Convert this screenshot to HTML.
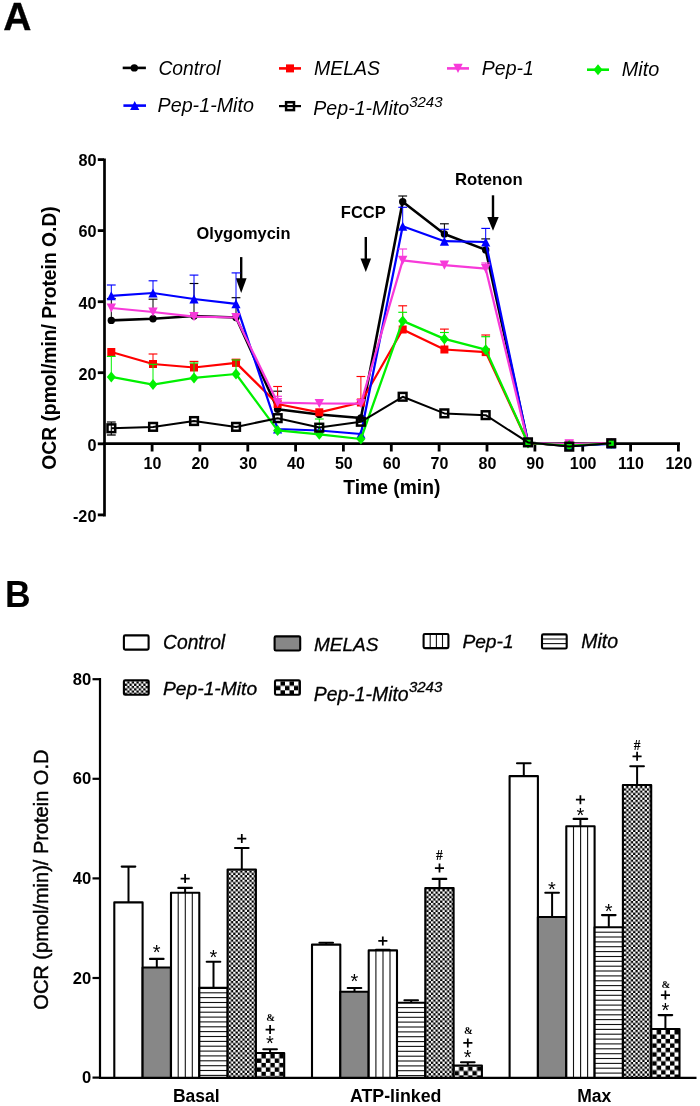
<!DOCTYPE html>
<html><head><meta charset="utf-8"><style>
html,body{margin:0;padding:0;background:#fff;}
svg{display:block;will-change:transform;}
text{font-family:"Liberation Sans", sans-serif;fill:#000;}
.it{stroke:#000;stroke-width:0.3px;}
</style></head><body>
<svg width="700" height="1106" viewBox="0 0 700 1106">
<defs><pattern id="ck1" patternUnits="userSpaceOnUse" x="228.62" y="870.50" width="4.60" height="4.60"><rect width="4.60" height="4.60" fill="#fff"/><rect x="2.30" width="2.30" height="2.30" fill="#000"/><rect y="2.30" width="2.30" height="2.30" fill="#000"/></pattern>
<pattern id="ck2" patternUnits="userSpaceOnUse" x="256.95" y="1054.00" width="8.90" height="8.90"><rect width="8.90" height="8.90" fill="#fff"/><rect x="4.45" width="4.45" height="4.45" fill="#000"/><rect y="4.45" width="4.45" height="4.45" fill="#000"/></pattern>
<pattern id="ck3" patternUnits="userSpaceOnUse" x="426.32" y="889.10" width="4.60" height="4.60"><rect width="4.60" height="4.60" fill="#fff"/><rect x="2.30" width="2.30" height="2.30" fill="#000"/><rect y="2.30" width="2.30" height="2.30" fill="#000"/></pattern>
<pattern id="ck4" patternUnits="userSpaceOnUse" x="454.65" y="1066.50" width="8.90" height="8.90"><rect width="8.90" height="8.90" fill="#fff"/><rect x="4.45" width="4.45" height="4.45" fill="#000"/><rect y="4.45" width="4.45" height="4.45" fill="#000"/></pattern>
<pattern id="ck5" patternUnits="userSpaceOnUse" x="623.92" y="786.00" width="4.60" height="4.60"><rect width="4.60" height="4.60" fill="#fff"/><rect x="2.30" width="2.30" height="2.30" fill="#000"/><rect y="2.30" width="2.30" height="2.30" fill="#000"/></pattern>
<pattern id="ck6" patternUnits="userSpaceOnUse" x="652.25" y="1030.00" width="8.90" height="8.90"><rect width="8.90" height="8.90" fill="#fff"/><rect x="4.45" width="4.45" height="4.45" fill="#000"/><rect y="4.45" width="4.45" height="4.45" fill="#000"/></pattern>
<pattern id="ck7" patternUnits="userSpaceOnUse" x="124.90" y="681.30" width="4.60" height="4.60"><rect width="4.60" height="4.60" fill="#fff"/><rect x="2.30" width="2.30" height="2.30" fill="#000"/><rect y="2.30" width="2.30" height="2.30" fill="#000"/></pattern>
<pattern id="ck8" patternUnits="userSpaceOnUse" x="276.00" y="681.30" width="9.00" height="9.00"><rect width="9.00" height="9.00" fill="#fff"/><rect x="4.50" width="4.50" height="4.50" fill="#000"/><rect y="4.50" width="4.50" height="4.50" fill="#000"/></pattern></defs>
<rect width="700" height="1106" fill="#fff"/>
<text transform="translate(3.3,30.2) scale(1.03,1)" font-size="37.9" font-weight="bold" style="stroke:#000;stroke-width:0.3px">A</text>
<text transform="translate(5.0,607.3) scale(0.94,1)" font-size="37.7" font-weight="bold">B</text>
<line x1="104.5" y1="158.4" x2="104.5" y2="516.5" stroke="#000" stroke-width="2.7"/>
<line x1="97.8" y1="159.6" x2="104" y2="159.6" stroke="#000" stroke-width="2.8"/>
<text x="96.4" y="166.4" font-size="16.2" font-weight="bold" text-anchor="end">80</text>
<line x1="97.8" y1="230.6" x2="104" y2="230.6" stroke="#000" stroke-width="2.8"/>
<text x="96.4" y="237.4" font-size="16.2" font-weight="bold" text-anchor="end">60</text>
<line x1="97.8" y1="301.7" x2="104" y2="301.7" stroke="#000" stroke-width="2.8"/>
<text x="96.4" y="308.5" font-size="16.2" font-weight="bold" text-anchor="end">40</text>
<line x1="97.8" y1="372.7" x2="104" y2="372.7" stroke="#000" stroke-width="2.8"/>
<text x="96.4" y="379.5" font-size="16.2" font-weight="bold" text-anchor="end">20</text>
<line x1="97.8" y1="443.8" x2="104" y2="443.8" stroke="#000" stroke-width="2.8"/>
<text x="96.4" y="450.6" font-size="16.2" font-weight="bold" text-anchor="end">0</text>
<line x1="97.8" y1="514.9" x2="104" y2="514.9" stroke="#000" stroke-width="2.8"/>
<text x="96.4" y="521.7" font-size="16.2" font-weight="bold" text-anchor="end">-20</text>
<line x1="103" y1="443.7" x2="680" y2="443.7" stroke="#000" stroke-width="2.8"/>
<line x1="152.1" y1="443.7" x2="152.1" y2="451.5" stroke="#000" stroke-width="2.8"/>
<text x="152.5" y="468.6" font-size="16" font-weight="bold" text-anchor="middle">10</text>
<line x1="199.9" y1="443.7" x2="199.9" y2="451.5" stroke="#000" stroke-width="2.8"/>
<text x="200.3" y="468.6" font-size="16" font-weight="bold" text-anchor="middle">20</text>
<line x1="247.8" y1="443.7" x2="247.8" y2="451.5" stroke="#000" stroke-width="2.8"/>
<text x="248.2" y="468.6" font-size="16" font-weight="bold" text-anchor="middle">30</text>
<line x1="295.6" y1="443.7" x2="295.6" y2="451.5" stroke="#000" stroke-width="2.8"/>
<text x="296.0" y="468.6" font-size="16" font-weight="bold" text-anchor="middle">40</text>
<line x1="343.4" y1="443.7" x2="343.4" y2="451.5" stroke="#000" stroke-width="2.8"/>
<text x="343.8" y="468.6" font-size="16" font-weight="bold" text-anchor="middle">50</text>
<line x1="391.3" y1="443.7" x2="391.3" y2="451.5" stroke="#000" stroke-width="2.8"/>
<text x="391.7" y="468.6" font-size="16" font-weight="bold" text-anchor="middle">60</text>
<line x1="439.1" y1="443.7" x2="439.1" y2="451.5" stroke="#000" stroke-width="2.8"/>
<text x="439.5" y="468.6" font-size="16" font-weight="bold" text-anchor="middle">70</text>
<line x1="487.0" y1="443.7" x2="487.0" y2="451.5" stroke="#000" stroke-width="2.8"/>
<text x="487.4" y="468.6" font-size="16" font-weight="bold" text-anchor="middle">80</text>
<line x1="534.9" y1="443.7" x2="534.9" y2="451.5" stroke="#000" stroke-width="2.8"/>
<text x="535.2" y="468.6" font-size="16" font-weight="bold" text-anchor="middle">90</text>
<line x1="582.7" y1="443.7" x2="582.7" y2="451.5" stroke="#000" stroke-width="2.8"/>
<text x="583.1" y="468.6" font-size="16" font-weight="bold" text-anchor="middle">100</text>
<line x1="630.6" y1="443.7" x2="630.6" y2="451.5" stroke="#000" stroke-width="2.8"/>
<text x="631.0" y="468.6" font-size="16" font-weight="bold" text-anchor="middle">110</text>
<line x1="678.4" y1="443.7" x2="678.4" y2="451.5" stroke="#000" stroke-width="2.8"/>
<text x="678.8" y="468.6" font-size="16" font-weight="bold" text-anchor="middle">120</text>
<text x="391.8" y="494.2" font-size="19.3" font-weight="bold" text-anchor="middle">Time (min)</text>
<text transform="translate(56.3,338) rotate(-90)" font-size="19.3" font-weight="bold" text-anchor="middle">OCR (pmol/min/ Protein O.D)</text>
<text x="196.6" y="238.8" font-size="16.4" font-weight="bold">Olygomycin</text>
<text x="340.8" y="217.7" font-size="16.5" font-weight="bold">FCCP</text>
<text x="455" y="184.8" font-size="16.7" font-weight="bold">Rotenon</text>
<line x1="241.2" y1="257.1" x2="241.2" y2="280.3" stroke="#000" stroke-width="2.4"/>
<polygon points="235.79999999999998,278.3 246.6,278.3 241.2,293.1" fill="#000"/>
<line x1="365.8" y1="237.0" x2="365.8" y2="260.4" stroke="#000" stroke-width="2.4"/>
<polygon points="360.5,258.4 371.1,258.4 365.8,272.1" fill="#000"/>
<line x1="493.0" y1="195.3" x2="493.0" y2="219.0" stroke="#000" stroke-width="2.4"/>
<polygon points="487.3,217.0 498.7,217.0 493.0,230.7" fill="#000"/>
<line x1="111.3" y1="320.4" x2="111.3" y2="298.5" stroke="#000000" stroke-width="1.0"/>
<line x1="106.9" y1="298.5" x2="115.7" y2="298.5" stroke="#000000" stroke-width="1.15"/>
<line x1="153.0" y1="318.7" x2="153.0" y2="299.2" stroke="#000000" stroke-width="1.0"/>
<line x1="148.6" y1="299.2" x2="157.4" y2="299.2" stroke="#000000" stroke-width="1.15"/>
<line x1="194.0" y1="316.0" x2="194.0" y2="283.5" stroke="#000000" stroke-width="1.0"/>
<line x1="189.6" y1="283.5" x2="198.4" y2="283.5" stroke="#000000" stroke-width="1.15"/>
<line x1="236.0" y1="317.5" x2="236.0" y2="297.7" stroke="#000000" stroke-width="1.0"/>
<line x1="231.6" y1="297.7" x2="240.4" y2="297.7" stroke="#000000" stroke-width="1.15"/>
<line x1="277.6" y1="409.2" x2="277.6" y2="391.2" stroke="#000000" stroke-width="1.0"/>
<line x1="273.2" y1="391.2" x2="282.0" y2="391.2" stroke="#000000" stroke-width="1.15"/>
<line x1="402.7" y1="201.8" x2="402.7" y2="196.0" stroke="#000000" stroke-width="1.0"/>
<line x1="398.3" y1="196.0" x2="407.1" y2="196.0" stroke="#000000" stroke-width="1.15"/>
<line x1="444.4" y1="234.0" x2="444.4" y2="223.8" stroke="#000000" stroke-width="1.0"/>
<line x1="440.0" y1="223.8" x2="448.8" y2="223.8" stroke="#000000" stroke-width="1.15"/>
<line x1="485.7" y1="249.9" x2="485.7" y2="238.9" stroke="#000000" stroke-width="1.0"/>
<line x1="481.3" y1="238.9" x2="490.1" y2="238.9" stroke="#000000" stroke-width="1.15"/>
<polyline points="111.3,320.4 153.0,318.7 194.0,316.0 236.0,317.5 277.6,409.2 319.3,414.5 360.9,418.0 402.7,201.8 444.4,234.0 485.7,249.9 528.0,442.5 569.2,446.0 611.2,443.0" fill="none" stroke="#000000" stroke-width="2.6" stroke-linejoin="round"/>
<circle cx="111.3" cy="320.4" r="3.7" fill="#000000"/>
<circle cx="153.0" cy="318.7" r="3.7" fill="#000000"/>
<circle cx="194.0" cy="316.0" r="3.7" fill="#000000"/>
<circle cx="236.0" cy="317.5" r="3.7" fill="#000000"/>
<circle cx="277.6" cy="409.2" r="3.7" fill="#000000"/>
<circle cx="319.3" cy="414.5" r="3.7" fill="#000000"/>
<circle cx="360.9" cy="418.0" r="3.7" fill="#000000"/>
<circle cx="402.7" cy="201.8" r="3.7" fill="#000000"/>
<circle cx="444.4" cy="234.0" r="3.7" fill="#000000"/>
<circle cx="485.7" cy="249.9" r="3.7" fill="#000000"/>
<circle cx="528.0" cy="442.5" r="3.7" fill="#000000"/>
<circle cx="569.2" cy="446.0" r="3.7" fill="#000000"/>
<circle cx="611.2" cy="443.0" r="3.7" fill="#000000"/>
<line x1="153.0" y1="364.0" x2="153.0" y2="354.0" stroke="#ff0000" stroke-width="1.0"/>
<line x1="148.6" y1="354.0" x2="157.4" y2="354.0" stroke="#ff0000" stroke-width="1.15"/>
<line x1="194.0" y1="367.5" x2="194.0" y2="361.4" stroke="#ff0000" stroke-width="1.0"/>
<line x1="189.6" y1="361.4" x2="198.4" y2="361.4" stroke="#ff0000" stroke-width="1.15"/>
<line x1="236.0" y1="362.9" x2="236.0" y2="359.3" stroke="#ff0000" stroke-width="1.0"/>
<line x1="231.6" y1="359.3" x2="240.4" y2="359.3" stroke="#ff0000" stroke-width="1.15"/>
<line x1="277.6" y1="404.0" x2="277.6" y2="386.5" stroke="#ff0000" stroke-width="1.0"/>
<line x1="273.2" y1="386.5" x2="282.0" y2="386.5" stroke="#ff0000" stroke-width="1.15"/>
<line x1="360.9" y1="402.5" x2="360.9" y2="376.5" stroke="#ff0000" stroke-width="1.0"/>
<line x1="356.5" y1="376.5" x2="365.3" y2="376.5" stroke="#ff0000" stroke-width="1.15"/>
<line x1="402.7" y1="329.5" x2="402.7" y2="305.8" stroke="#ff0000" stroke-width="1.0"/>
<line x1="398.3" y1="305.8" x2="407.1" y2="305.8" stroke="#ff0000" stroke-width="1.15"/>
<line x1="444.4" y1="349.5" x2="444.4" y2="329.1" stroke="#ff0000" stroke-width="1.0"/>
<line x1="440.0" y1="329.1" x2="448.8" y2="329.1" stroke="#ff0000" stroke-width="1.15"/>
<line x1="485.7" y1="352.1" x2="485.7" y2="335.0" stroke="#ff0000" stroke-width="1.0"/>
<line x1="481.3" y1="335.0" x2="490.1" y2="335.0" stroke="#ff0000" stroke-width="1.15"/>
<polyline points="111.3,352.0 153.0,364.0 194.0,367.5 236.0,362.9 277.6,404.0 319.3,412.3 360.9,402.5 402.7,329.5 444.4,349.5 485.7,352.1 528.0,443.0 569.2,445.5 611.2,443.0" fill="none" stroke="#ff0000" stroke-width="2.25" stroke-linejoin="round"/>
<rect x="107.3" y="348.0" width="8.0" height="8.0" fill="#ff0000"/>
<rect x="149.0" y="360.0" width="8.0" height="8.0" fill="#ff0000"/>
<rect x="190.0" y="363.5" width="8.0" height="8.0" fill="#ff0000"/>
<rect x="232.0" y="358.9" width="8.0" height="8.0" fill="#ff0000"/>
<rect x="273.6" y="400.0" width="8.0" height="8.0" fill="#ff0000"/>
<rect x="315.3" y="408.3" width="8.0" height="8.0" fill="#ff0000"/>
<rect x="356.9" y="398.5" width="8.0" height="8.0" fill="#ff0000"/>
<rect x="398.7" y="325.5" width="8.0" height="8.0" fill="#ff0000"/>
<rect x="440.4" y="345.5" width="8.0" height="8.0" fill="#ff0000"/>
<rect x="481.7" y="348.1" width="8.0" height="8.0" fill="#ff0000"/>
<rect x="524.0" y="439.0" width="8.0" height="8.0" fill="#ff0000"/>
<rect x="565.2" y="441.5" width="8.0" height="8.0" fill="#ff0000"/>
<rect x="607.2" y="439.0" width="8.0" height="8.0" fill="#ff0000"/>
<line x1="111.3" y1="295.8" x2="111.3" y2="285.0" stroke="#0000ff" stroke-width="1.0"/>
<line x1="106.9" y1="285.0" x2="115.7" y2="285.0" stroke="#0000ff" stroke-width="1.15"/>
<line x1="153.0" y1="293.0" x2="153.0" y2="280.8" stroke="#0000ff" stroke-width="1.0"/>
<line x1="148.6" y1="280.8" x2="157.4" y2="280.8" stroke="#0000ff" stroke-width="1.15"/>
<line x1="194.0" y1="299.0" x2="194.0" y2="275.1" stroke="#0000ff" stroke-width="1.0"/>
<line x1="189.6" y1="275.1" x2="198.4" y2="275.1" stroke="#0000ff" stroke-width="1.15"/>
<line x1="236.0" y1="303.8" x2="236.0" y2="272.9" stroke="#0000ff" stroke-width="1.0"/>
<line x1="231.6" y1="272.9" x2="240.4" y2="272.9" stroke="#0000ff" stroke-width="1.15"/>
<line x1="402.7" y1="226.2" x2="402.7" y2="207.3" stroke="#0000ff" stroke-width="1.0"/>
<line x1="398.3" y1="207.3" x2="407.1" y2="207.3" stroke="#0000ff" stroke-width="1.15"/>
<line x1="444.4" y1="241.2" x2="444.4" y2="229.3" stroke="#0000ff" stroke-width="1.0"/>
<line x1="440.0" y1="229.3" x2="448.8" y2="229.3" stroke="#0000ff" stroke-width="1.15"/>
<line x1="485.7" y1="242.0" x2="485.7" y2="228.4" stroke="#0000ff" stroke-width="1.0"/>
<line x1="481.3" y1="228.4" x2="490.1" y2="228.4" stroke="#0000ff" stroke-width="1.15"/>
<polyline points="111.3,295.8 153.0,293.0 194.0,299.0 236.0,303.8 277.6,429.0 319.3,430.5 360.9,434.0 402.7,226.2 444.4,241.2 485.7,242.0 528.0,442.5 569.2,446.0 611.2,444.0" fill="none" stroke="#0000ff" stroke-width="2.25" stroke-linejoin="round"/>
<polygon points="106.7,300.3 115.9,300.3 111.3,291.3" fill="#0000ff"/>
<polygon points="148.4,297.5 157.6,297.5 153.0,288.5" fill="#0000ff"/>
<polygon points="189.4,303.5 198.6,303.5 194.0,294.5" fill="#0000ff"/>
<polygon points="231.4,308.3 240.6,308.3 236.0,299.3" fill="#0000ff"/>
<polygon points="273.0,433.5 282.2,433.5 277.6,424.5" fill="#0000ff"/>
<polygon points="314.7,435.0 323.9,435.0 319.3,426.0" fill="#0000ff"/>
<polygon points="356.3,438.5 365.5,438.5 360.9,429.5" fill="#0000ff"/>
<polygon points="398.1,230.7 407.3,230.7 402.7,221.7" fill="#0000ff"/>
<polygon points="439.8,245.7 449.0,245.7 444.4,236.7" fill="#0000ff"/>
<polygon points="481.1,246.5 490.3,246.5 485.7,237.5" fill="#0000ff"/>
<polygon points="523.4,447.0 532.6,447.0 528.0,438.0" fill="#0000ff"/>
<polygon points="564.6,450.5 573.8,450.5 569.2,441.5" fill="#0000ff"/>
<polygon points="606.6,448.5 615.8,448.5 611.2,439.5" fill="#0000ff"/>
<line x1="277.6" y1="402.7" x2="277.6" y2="396.3" stroke="#f73ad9" stroke-width="1.0"/>
<line x1="273.2" y1="396.3" x2="282.0" y2="396.3" stroke="#f73ad9" stroke-width="1.15"/>
<line x1="402.7" y1="260.4" x2="402.7" y2="249.0" stroke="#f73ad9" stroke-width="1.0"/>
<line x1="398.3" y1="249.0" x2="407.1" y2="249.0" stroke="#f73ad9" stroke-width="1.15"/>
<line x1="485.7" y1="268.7" x2="485.7" y2="263.0" stroke="#f73ad9" stroke-width="1.0"/>
<line x1="481.3" y1="263.0" x2="490.1" y2="263.0" stroke="#f73ad9" stroke-width="1.15"/>
<line x1="569.2" y1="444.0" x2="569.2" y2="440.0" stroke="#f73ad9" stroke-width="1.0"/>
<line x1="564.8" y1="440.0" x2="573.6" y2="440.0" stroke="#f73ad9" stroke-width="1.15"/>
<polyline points="111.3,308.0 153.0,312.0 194.0,316.6 236.0,317.5 277.6,402.7 319.3,403.5 360.9,403.5 402.7,260.4 444.4,265.2 485.7,268.7 528.0,443.0 569.2,444.0 611.2,443.0" fill="none" stroke="#f73ad9" stroke-width="2.25" stroke-linejoin="round"/>
<polygon points="106.6,303.4 116.0,303.4 111.3,312.6" fill="#f73ad9"/>
<polygon points="148.3,307.4 157.7,307.4 153.0,316.6" fill="#f73ad9"/>
<polygon points="189.3,312.0 198.7,312.0 194.0,321.2" fill="#f73ad9"/>
<polygon points="231.3,312.9 240.7,312.9 236.0,322.1" fill="#f73ad9"/>
<polygon points="272.9,398.1 282.3,398.1 277.6,407.3" fill="#f73ad9"/>
<polygon points="314.6,398.9 324.0,398.9 319.3,408.1" fill="#f73ad9"/>
<polygon points="356.2,398.9 365.6,398.9 360.9,408.1" fill="#f73ad9"/>
<polygon points="398.0,255.8 407.4,255.8 402.7,265.0" fill="#f73ad9"/>
<polygon points="439.7,260.6 449.1,260.6 444.4,269.8" fill="#f73ad9"/>
<polygon points="481.0,264.1 490.4,264.1 485.7,273.3" fill="#f73ad9"/>
<polygon points="523.3,438.4 532.7,438.4 528.0,447.6" fill="#f73ad9"/>
<polygon points="564.5,439.4 573.9,439.4 569.2,448.6" fill="#f73ad9"/>
<polygon points="606.5,438.4 615.9,438.4 611.2,447.6" fill="#f73ad9"/>
<line x1="111.3" y1="376.9" x2="111.3" y2="356.4" stroke="#00f000" stroke-width="1.0"/>
<line x1="106.9" y1="356.4" x2="115.7" y2="356.4" stroke="#00f000" stroke-width="1.15"/>
<line x1="153.0" y1="384.6" x2="153.0" y2="364.3" stroke="#00f000" stroke-width="1.0"/>
<line x1="148.6" y1="364.3" x2="157.4" y2="364.3" stroke="#00f000" stroke-width="1.15"/>
<line x1="194.0" y1="377.9" x2="194.0" y2="363.0" stroke="#00f000" stroke-width="1.0"/>
<line x1="189.6" y1="363.0" x2="198.4" y2="363.0" stroke="#00f000" stroke-width="1.15"/>
<line x1="236.0" y1="374.0" x2="236.0" y2="360.0" stroke="#00f000" stroke-width="1.0"/>
<line x1="231.6" y1="360.0" x2="240.4" y2="360.0" stroke="#00f000" stroke-width="1.15"/>
<line x1="319.3" y1="434.3" x2="319.3" y2="419.0" stroke="#00f000" stroke-width="1.0"/>
<line x1="314.9" y1="419.0" x2="323.7" y2="419.0" stroke="#00f000" stroke-width="1.15"/>
<line x1="402.7" y1="320.9" x2="402.7" y2="312.3" stroke="#00f000" stroke-width="1.0"/>
<line x1="398.3" y1="312.3" x2="407.1" y2="312.3" stroke="#00f000" stroke-width="1.15"/>
<line x1="444.4" y1="338.9" x2="444.4" y2="332.5" stroke="#00f000" stroke-width="1.0"/>
<line x1="440.0" y1="332.5" x2="448.8" y2="332.5" stroke="#00f000" stroke-width="1.15"/>
<line x1="485.7" y1="349.7" x2="485.7" y2="336.7" stroke="#00f000" stroke-width="1.0"/>
<line x1="481.3" y1="336.7" x2="490.1" y2="336.7" stroke="#00f000" stroke-width="1.15"/>
<polyline points="111.3,376.9 153.0,384.6 194.0,377.9 236.0,374.0 277.6,430.4 319.3,434.3 360.9,439.0 402.7,320.9 444.4,338.9 485.7,349.7 528.0,443.0 569.2,445.5 611.2,443.5" fill="none" stroke="#00f000" stroke-width="2.25" stroke-linejoin="round"/>
<polygon points="106.8,376.9 111.3,371.4 115.8,376.9 111.3,382.4" fill="#00f000"/>
<polygon points="148.5,384.6 153.0,379.1 157.5,384.6 153.0,390.1" fill="#00f000"/>
<polygon points="189.5,377.9 194.0,372.4 198.5,377.9 194.0,383.4" fill="#00f000"/>
<polygon points="231.5,374.0 236.0,368.5 240.5,374.0 236.0,379.5" fill="#00f000"/>
<polygon points="273.1,430.4 277.6,424.9 282.1,430.4 277.6,435.9" fill="#00f000"/>
<polygon points="314.8,434.3 319.3,428.8 323.8,434.3 319.3,439.8" fill="#00f000"/>
<polygon points="356.4,439.0 360.9,433.5 365.4,439.0 360.9,444.5" fill="#00f000"/>
<polygon points="398.2,320.9 402.7,315.4 407.2,320.9 402.7,326.4" fill="#00f000"/>
<polygon points="439.9,338.9 444.4,333.4 448.9,338.9 444.4,344.4" fill="#00f000"/>
<polygon points="481.2,349.7 485.7,344.2 490.2,349.7 485.7,355.2" fill="#00f000"/>
<polygon points="523.5,443.0 528.0,437.5 532.5,443.0 528.0,448.5" fill="#00f000"/>
<polygon points="564.7,445.5 569.2,440.0 573.7,445.5 569.2,451.0" fill="#00f000"/>
<polygon points="606.7,443.5 611.2,438.0 615.7,443.5 611.2,449.0" fill="#00f000"/>
<line x1="111.3" y1="428.3" x2="111.3" y2="422.0" stroke="#000000" stroke-width="1.0"/>
<line x1="106.9" y1="422.0" x2="115.7" y2="422.0" stroke="#000000" stroke-width="1.15"/>
<polyline points="111.3,428.3 153.0,426.9 194.0,421.1 236.0,426.9 277.6,418.2 319.3,427.6 360.9,421.8 402.7,396.8 444.4,413.4 485.7,415.2 528.0,442.4 569.2,446.6 611.2,443.3" fill="none" stroke="#000000" stroke-width="2.0" stroke-linejoin="round"/>
<rect x="107.5" y="424.4" width="7.7" height="7.7" fill="none" stroke="#000000" stroke-width="2.5"/>
<rect x="149.2" y="423.0" width="7.7" height="7.7" fill="none" stroke="#000000" stroke-width="2.5"/>
<rect x="190.2" y="417.2" width="7.7" height="7.7" fill="none" stroke="#000000" stroke-width="2.5"/>
<rect x="232.2" y="423.0" width="7.7" height="7.7" fill="none" stroke="#000000" stroke-width="2.5"/>
<rect x="273.8" y="414.3" width="7.7" height="7.7" fill="none" stroke="#000000" stroke-width="2.5"/>
<rect x="315.4" y="423.8" width="7.7" height="7.7" fill="none" stroke="#000000" stroke-width="2.5"/>
<rect x="357.0" y="417.9" width="7.7" height="7.7" fill="none" stroke="#000000" stroke-width="2.5"/>
<rect x="398.8" y="392.9" width="7.7" height="7.7" fill="none" stroke="#000000" stroke-width="2.5"/>
<rect x="440.5" y="409.5" width="7.7" height="7.7" fill="none" stroke="#000000" stroke-width="2.5"/>
<rect x="481.8" y="411.3" width="7.7" height="7.7" fill="none" stroke="#000000" stroke-width="2.5"/>
<rect x="524.1" y="438.5" width="7.7" height="7.7" fill="none" stroke="#000000" stroke-width="2.5"/>
<rect x="565.4" y="442.8" width="7.7" height="7.7" fill="none" stroke="#000000" stroke-width="2.5"/>
<rect x="607.4" y="439.4" width="7.7" height="7.7" fill="none" stroke="#000000" stroke-width="2.5"/>
<line x1="111.3" y1="428.3" x2="111.3" y2="435" stroke="#000" stroke-width="1.1"/>
<line x1="106.9" y1="435" x2="115.7" y2="435" stroke="#000" stroke-width="1.3"/>
<line x1="122.7" y1="67.9" x2="145.9" y2="67.9" stroke="#000000" stroke-width="2.6"/>
<circle cx="134.3" cy="67.9" r="3.7" fill="#000000"/>
<line x1="279" y1="68.4" x2="301" y2="68.4" stroke="#ff0000" stroke-width="2.6"/>
<rect x="286.0" y="64.4" width="8.0" height="8.0" fill="#ff0000"/>
<line x1="447" y1="68.4" x2="469" y2="68.4" stroke="#f73ad9" stroke-width="2.6"/>
<polygon points="453.3,63.8 462.7,63.8 458.0,73.0" fill="#f73ad9"/>
<line x1="587" y1="69.7" x2="609" y2="69.7" stroke="#00f000" stroke-width="2.6"/>
<polygon points="593.5,69.7 598.0,64.2 602.5,69.7 598.0,75.2" fill="#00f000"/>
<line x1="123.4" y1="105.6" x2="146" y2="105.6" stroke="#0000ff" stroke-width="2.6"/>
<polygon points="130.1,110.1 139.3,110.1 134.7,101.1" fill="#0000ff"/>
<line x1="279" y1="106.1" x2="301" y2="106.1" stroke="#000000" stroke-width="2.2"/>
<rect x="286.1" y="102.2" width="7.9" height="7.9" fill="none" stroke="#000000" stroke-width="2.5"/>
<text x="158.4" y="74.6" font-size="19.3" font-style="italic" class="">Control</text>
<text x="313.9" y="75" font-size="19.5" font-style="italic" class="">MELAS</text>
<text x="481.8" y="74.6" font-size="19.5" font-style="italic" class="">Pep-1</text>
<text x="621.8" y="75.9" font-size="19.8" font-style="italic" class="">Mito</text>
<text x="157.6" y="112" font-size="19.7" font-style="italic" class="">Pep-1-Mito</text>
<text x="313.3" y="115.2" font-size="19.6" font-style="italic">Pep-1-Mito<tspan font-size="15" dy="-8.4">3243</tspan></text>
<line x1="100" y1="678" x2="100" y2="1078.5" stroke="#000" stroke-width="2.2"/>
<line x1="92.5" y1="679.2" x2="100" y2="679.2" stroke="#000" stroke-width="2.2"/>
<text x="91.3" y="684.8" font-size="16.6" font-weight="bold" text-anchor="end">80</text>
<line x1="92.5" y1="778.8" x2="100" y2="778.8" stroke="#000" stroke-width="2.2"/>
<text x="91.3" y="784.4" font-size="16.6" font-weight="bold" text-anchor="end">60</text>
<line x1="92.5" y1="878.4" x2="100" y2="878.4" stroke="#000" stroke-width="2.2"/>
<text x="91.3" y="884.0" font-size="16.6" font-weight="bold" text-anchor="end">40</text>
<line x1="92.5" y1="978.0" x2="100" y2="978.0" stroke="#000" stroke-width="2.2"/>
<text x="91.3" y="983.6" font-size="16.6" font-weight="bold" text-anchor="end">20</text>
<line x1="92.5" y1="1077.6" x2="100" y2="1077.6" stroke="#000" stroke-width="2.2"/>
<text x="91.3" y="1083.2" font-size="16.6" font-weight="bold" text-anchor="end">0</text>
<line x1="99" y1="1077.9" x2="696.5" y2="1077.9" stroke="#000" stroke-width="2.2"/>
<text x="196.3" y="1102.1" font-size="17.5" font-weight="bold" text-anchor="middle">Basal</text>
<text x="395.7" y="1101.9" font-size="17.8" font-weight="bold" text-anchor="middle">ATP-linked</text>
<text x="594.3" y="1101.8" font-size="17.5" font-weight="bold" text-anchor="middle">Max</text>
<text transform="translate(48.1,879.6) rotate(-90)" font-size="20" text-anchor="middle" style="stroke:#000;stroke-width:0.45px">OCR (pmol/min)/ Protein O.D</text>
<line x1="128.5" y1="902.0" x2="128.5" y2="866.6" stroke="#000" stroke-width="2"/>
<line x1="121.7" y1="866.6" x2="135.3" y2="866.6" stroke="#000" stroke-width="2.1" stroke-linecap="round"/>
<line x1="156.8" y1="967.1" x2="156.8" y2="958.9" stroke="#000" stroke-width="2"/>
<line x1="150.0" y1="958.9" x2="163.6" y2="958.9" stroke="#000" stroke-width="2.1" stroke-linecap="round"/>
<line x1="185.1" y1="892.3" x2="185.1" y2="887.9" stroke="#000" stroke-width="2"/>
<line x1="178.3" y1="887.9" x2="191.9" y2="887.9" stroke="#000" stroke-width="2.1" stroke-linecap="round"/>
<line x1="213.5" y1="987.5" x2="213.5" y2="961.7" stroke="#000" stroke-width="2"/>
<line x1="206.7" y1="961.7" x2="220.3" y2="961.7" stroke="#000" stroke-width="2.1" stroke-linecap="round"/>
<line x1="241.8" y1="869.1" x2="241.8" y2="848.0" stroke="#000" stroke-width="2"/>
<line x1="235.0" y1="848.0" x2="248.6" y2="848.0" stroke="#000" stroke-width="2.1" stroke-linecap="round"/>
<line x1="270.1" y1="1052.6" x2="270.1" y2="1049.3" stroke="#000" stroke-width="2"/>
<line x1="263.3" y1="1049.3" x2="276.9" y2="1049.3" stroke="#000" stroke-width="2.1" stroke-linecap="round"/>
<rect x="114.3" y="902.4" width="28.3" height="175.5" fill="#fff"/>
<rect x="114.3" y="902.4" width="28.3" height="175.5" fill="none" stroke="#000" stroke-width="2.1" stroke-linejoin="round"/>
<rect x="142.6" y="967.5" width="28.3" height="110.4" fill="#878787"/>
<rect x="142.6" y="967.5" width="28.3" height="110.4" fill="none" stroke="#000" stroke-width="2.1" stroke-linejoin="round"/>
<rect x="171.0" y="892.7" width="28.3" height="185.2" fill="#fff"/>
<line x1="178.2" y1="892.7" x2="178.2" y2="1077.9" stroke="#111" stroke-width="1.1"/>
<line x1="185.3" y1="892.7" x2="185.3" y2="1077.9" stroke="#111" stroke-width="1.1"/>
<line x1="192.3" y1="892.7" x2="192.3" y2="1077.9" stroke="#111" stroke-width="1.1"/>
<rect x="171.0" y="892.7" width="28.3" height="185.2" fill="none" stroke="#000" stroke-width="2.1" stroke-linejoin="round"/>
<rect x="199.3" y="987.9" width="28.3" height="90.0" fill="#fff"/>
<line x1="199.3" y1="992.8" x2="227.6" y2="992.8" stroke="#111" stroke-width="1.1"/>
<line x1="199.3" y1="997.6" x2="227.6" y2="997.6" stroke="#111" stroke-width="1.1"/>
<line x1="199.3" y1="1002.5" x2="227.6" y2="1002.5" stroke="#111" stroke-width="1.1"/>
<line x1="199.3" y1="1007.3" x2="227.6" y2="1007.3" stroke="#111" stroke-width="1.1"/>
<line x1="199.3" y1="1012.2" x2="227.6" y2="1012.2" stroke="#111" stroke-width="1.1"/>
<line x1="199.3" y1="1017.1" x2="227.6" y2="1017.1" stroke="#111" stroke-width="1.1"/>
<line x1="199.3" y1="1021.9" x2="227.6" y2="1021.9" stroke="#111" stroke-width="1.1"/>
<line x1="199.3" y1="1026.8" x2="227.6" y2="1026.8" stroke="#111" stroke-width="1.1"/>
<line x1="199.3" y1="1031.6" x2="227.6" y2="1031.6" stroke="#111" stroke-width="1.1"/>
<line x1="199.3" y1="1036.5" x2="227.6" y2="1036.5" stroke="#111" stroke-width="1.1"/>
<line x1="199.3" y1="1041.4" x2="227.6" y2="1041.4" stroke="#111" stroke-width="1.1"/>
<line x1="199.3" y1="1046.2" x2="227.6" y2="1046.2" stroke="#111" stroke-width="1.1"/>
<line x1="199.3" y1="1051.1" x2="227.6" y2="1051.1" stroke="#111" stroke-width="1.1"/>
<line x1="199.3" y1="1055.9" x2="227.6" y2="1055.9" stroke="#111" stroke-width="1.1"/>
<line x1="199.3" y1="1060.8" x2="227.6" y2="1060.8" stroke="#111" stroke-width="1.1"/>
<line x1="199.3" y1="1065.7" x2="227.6" y2="1065.7" stroke="#111" stroke-width="1.1"/>
<line x1="199.3" y1="1070.5" x2="227.6" y2="1070.5" stroke="#111" stroke-width="1.1"/>
<line x1="199.3" y1="1075.4" x2="227.6" y2="1075.4" stroke="#111" stroke-width="1.1"/>
<rect x="199.3" y="987.9" width="28.3" height="90.0" fill="none" stroke="#000" stroke-width="2.1" stroke-linejoin="round"/>
<rect x="227.6" y="869.5" width="28.3" height="208.4" fill="url(#ck1)"/>
<rect x="227.6" y="869.5" width="28.3" height="208.4" fill="none" stroke="#000" stroke-width="2.1" stroke-linejoin="round"/>
<rect x="255.9" y="1053.0" width="28.3" height="24.9" fill="url(#ck2)"/>
<rect x="255.9" y="1053.0" width="28.3" height="24.9" fill="none" stroke="#000" stroke-width="2.1" stroke-linejoin="round"/>
<line x1="326.2" y1="944.2" x2="326.2" y2="942.7" stroke="#000" stroke-width="2"/>
<line x1="319.4" y1="942.7" x2="333.0" y2="942.7" stroke="#000" stroke-width="2.1" stroke-linecap="round"/>
<line x1="354.5" y1="991.4" x2="354.5" y2="988.0" stroke="#000" stroke-width="2"/>
<line x1="347.7" y1="988.0" x2="361.3" y2="988.0" stroke="#000" stroke-width="2.1" stroke-linecap="round"/>
<line x1="382.8" y1="950.0" x2="382.8" y2="949.9" stroke="#000" stroke-width="2"/>
<line x1="376.0" y1="949.9" x2="389.6" y2="949.9" stroke="#000" stroke-width="2.1" stroke-linecap="round"/>
<line x1="411.2" y1="1002.3" x2="411.2" y2="1000.3" stroke="#000" stroke-width="2"/>
<line x1="404.4" y1="1000.3" x2="418.0" y2="1000.3" stroke="#000" stroke-width="2.1" stroke-linecap="round"/>
<line x1="439.5" y1="887.7" x2="439.5" y2="878.9" stroke="#000" stroke-width="2"/>
<line x1="432.7" y1="878.9" x2="446.3" y2="878.9" stroke="#000" stroke-width="2.1" stroke-linecap="round"/>
<line x1="467.8" y1="1065.1" x2="467.8" y2="1062.3" stroke="#000" stroke-width="2"/>
<line x1="461.0" y1="1062.3" x2="474.6" y2="1062.3" stroke="#000" stroke-width="2.1" stroke-linecap="round"/>
<rect x="312.0" y="944.6" width="28.3" height="133.3" fill="#fff"/>
<rect x="312.0" y="944.6" width="28.3" height="133.3" fill="none" stroke="#000" stroke-width="2.1" stroke-linejoin="round"/>
<rect x="340.3" y="991.8" width="28.3" height="86.1" fill="#878787"/>
<rect x="340.3" y="991.8" width="28.3" height="86.1" fill="none" stroke="#000" stroke-width="2.1" stroke-linejoin="round"/>
<rect x="368.7" y="950.4" width="28.3" height="127.5" fill="#fff"/>
<line x1="375.9" y1="950.4" x2="375.9" y2="1077.9" stroke="#111" stroke-width="1.1"/>
<line x1="383.0" y1="950.4" x2="383.0" y2="1077.9" stroke="#111" stroke-width="1.1"/>
<line x1="390.0" y1="950.4" x2="390.0" y2="1077.9" stroke="#111" stroke-width="1.1"/>
<rect x="368.7" y="950.4" width="28.3" height="127.5" fill="none" stroke="#000" stroke-width="2.1" stroke-linejoin="round"/>
<rect x="397.0" y="1002.7" width="28.3" height="75.2" fill="#fff"/>
<line x1="397.0" y1="1007.6" x2="425.3" y2="1007.6" stroke="#111" stroke-width="1.1"/>
<line x1="397.0" y1="1012.4" x2="425.3" y2="1012.4" stroke="#111" stroke-width="1.1"/>
<line x1="397.0" y1="1017.3" x2="425.3" y2="1017.3" stroke="#111" stroke-width="1.1"/>
<line x1="397.0" y1="1022.1" x2="425.3" y2="1022.1" stroke="#111" stroke-width="1.1"/>
<line x1="397.0" y1="1027.0" x2="425.3" y2="1027.0" stroke="#111" stroke-width="1.1"/>
<line x1="397.0" y1="1031.9" x2="425.3" y2="1031.9" stroke="#111" stroke-width="1.1"/>
<line x1="397.0" y1="1036.7" x2="425.3" y2="1036.7" stroke="#111" stroke-width="1.1"/>
<line x1="397.0" y1="1041.6" x2="425.3" y2="1041.6" stroke="#111" stroke-width="1.1"/>
<line x1="397.0" y1="1046.4" x2="425.3" y2="1046.4" stroke="#111" stroke-width="1.1"/>
<line x1="397.0" y1="1051.3" x2="425.3" y2="1051.3" stroke="#111" stroke-width="1.1"/>
<line x1="397.0" y1="1056.2" x2="425.3" y2="1056.2" stroke="#111" stroke-width="1.1"/>
<line x1="397.0" y1="1061.0" x2="425.3" y2="1061.0" stroke="#111" stroke-width="1.1"/>
<line x1="397.0" y1="1065.9" x2="425.3" y2="1065.9" stroke="#111" stroke-width="1.1"/>
<line x1="397.0" y1="1070.7" x2="425.3" y2="1070.7" stroke="#111" stroke-width="1.1"/>
<line x1="397.0" y1="1075.6" x2="425.3" y2="1075.6" stroke="#111" stroke-width="1.1"/>
<rect x="397.0" y="1002.7" width="28.3" height="75.2" fill="none" stroke="#000" stroke-width="2.1" stroke-linejoin="round"/>
<rect x="425.3" y="888.1" width="28.3" height="189.8" fill="url(#ck3)"/>
<rect x="425.3" y="888.1" width="28.3" height="189.8" fill="none" stroke="#000" stroke-width="2.1" stroke-linejoin="round"/>
<rect x="453.6" y="1065.5" width="28.3" height="12.4" fill="url(#ck4)"/>
<rect x="453.6" y="1065.5" width="28.3" height="12.4" fill="none" stroke="#000" stroke-width="2.1" stroke-linejoin="round"/>
<line x1="523.8" y1="775.7" x2="523.8" y2="763.3" stroke="#000" stroke-width="2"/>
<line x1="517.0" y1="763.3" x2="530.6" y2="763.3" stroke="#000" stroke-width="2.1" stroke-linecap="round"/>
<line x1="552.1" y1="916.6" x2="552.1" y2="892.8" stroke="#000" stroke-width="2"/>
<line x1="545.3" y1="892.8" x2="558.9" y2="892.8" stroke="#000" stroke-width="2.1" stroke-linecap="round"/>
<line x1="580.4" y1="825.8" x2="580.4" y2="818.9" stroke="#000" stroke-width="2"/>
<line x1="573.6" y1="818.9" x2="587.2" y2="818.9" stroke="#000" stroke-width="2.1" stroke-linecap="round"/>
<line x1="608.8" y1="926.9" x2="608.8" y2="915.1" stroke="#000" stroke-width="2"/>
<line x1="602.0" y1="915.1" x2="615.6" y2="915.1" stroke="#000" stroke-width="2.1" stroke-linecap="round"/>
<line x1="637.1" y1="784.6" x2="637.1" y2="766.2" stroke="#000" stroke-width="2"/>
<line x1="630.3" y1="766.2" x2="643.9" y2="766.2" stroke="#000" stroke-width="2.1" stroke-linecap="round"/>
<line x1="665.4" y1="1028.6" x2="665.4" y2="1015.1" stroke="#000" stroke-width="2"/>
<line x1="658.6" y1="1015.1" x2="672.2" y2="1015.1" stroke="#000" stroke-width="2.1" stroke-linecap="round"/>
<rect x="509.6" y="776.1" width="28.3" height="301.8" fill="#fff"/>
<rect x="509.6" y="776.1" width="28.3" height="301.8" fill="none" stroke="#000" stroke-width="2.1" stroke-linejoin="round"/>
<rect x="537.9" y="917.0" width="28.3" height="160.9" fill="#878787"/>
<rect x="537.9" y="917.0" width="28.3" height="160.9" fill="none" stroke="#000" stroke-width="2.1" stroke-linejoin="round"/>
<rect x="566.3" y="826.2" width="28.3" height="251.7" fill="#fff"/>
<line x1="573.5" y1="826.2" x2="573.5" y2="1077.9" stroke="#111" stroke-width="1.1"/>
<line x1="580.6" y1="826.2" x2="580.6" y2="1077.9" stroke="#111" stroke-width="1.1"/>
<line x1="587.6" y1="826.2" x2="587.6" y2="1077.9" stroke="#111" stroke-width="1.1"/>
<rect x="566.3" y="826.2" width="28.3" height="251.7" fill="none" stroke="#000" stroke-width="2.1" stroke-linejoin="round"/>
<rect x="594.6" y="927.3" width="28.3" height="150.6" fill="#fff"/>
<line x1="594.6" y1="932.2" x2="622.9" y2="932.2" stroke="#111" stroke-width="1.1"/>
<line x1="594.6" y1="937.0" x2="622.9" y2="937.0" stroke="#111" stroke-width="1.1"/>
<line x1="594.6" y1="941.9" x2="622.9" y2="941.9" stroke="#111" stroke-width="1.1"/>
<line x1="594.6" y1="946.7" x2="622.9" y2="946.7" stroke="#111" stroke-width="1.1"/>
<line x1="594.6" y1="951.6" x2="622.9" y2="951.6" stroke="#111" stroke-width="1.1"/>
<line x1="594.6" y1="956.5" x2="622.9" y2="956.5" stroke="#111" stroke-width="1.1"/>
<line x1="594.6" y1="961.3" x2="622.9" y2="961.3" stroke="#111" stroke-width="1.1"/>
<line x1="594.6" y1="966.2" x2="622.9" y2="966.2" stroke="#111" stroke-width="1.1"/>
<line x1="594.6" y1="971.0" x2="622.9" y2="971.0" stroke="#111" stroke-width="1.1"/>
<line x1="594.6" y1="975.9" x2="622.9" y2="975.9" stroke="#111" stroke-width="1.1"/>
<line x1="594.6" y1="980.8" x2="622.9" y2="980.8" stroke="#111" stroke-width="1.1"/>
<line x1="594.6" y1="985.6" x2="622.9" y2="985.6" stroke="#111" stroke-width="1.1"/>
<line x1="594.6" y1="990.5" x2="622.9" y2="990.5" stroke="#111" stroke-width="1.1"/>
<line x1="594.6" y1="995.3" x2="622.9" y2="995.3" stroke="#111" stroke-width="1.1"/>
<line x1="594.6" y1="1000.2" x2="622.9" y2="1000.2" stroke="#111" stroke-width="1.1"/>
<line x1="594.6" y1="1005.1" x2="622.9" y2="1005.1" stroke="#111" stroke-width="1.1"/>
<line x1="594.6" y1="1009.9" x2="622.9" y2="1009.9" stroke="#111" stroke-width="1.1"/>
<line x1="594.6" y1="1014.8" x2="622.9" y2="1014.8" stroke="#111" stroke-width="1.1"/>
<line x1="594.6" y1="1019.6" x2="622.9" y2="1019.6" stroke="#111" stroke-width="1.1"/>
<line x1="594.6" y1="1024.5" x2="622.9" y2="1024.5" stroke="#111" stroke-width="1.1"/>
<line x1="594.6" y1="1029.4" x2="622.9" y2="1029.4" stroke="#111" stroke-width="1.1"/>
<line x1="594.6" y1="1034.2" x2="622.9" y2="1034.2" stroke="#111" stroke-width="1.1"/>
<line x1="594.6" y1="1039.1" x2="622.9" y2="1039.1" stroke="#111" stroke-width="1.1"/>
<line x1="594.6" y1="1043.9" x2="622.9" y2="1043.9" stroke="#111" stroke-width="1.1"/>
<line x1="594.6" y1="1048.8" x2="622.9" y2="1048.8" stroke="#111" stroke-width="1.1"/>
<line x1="594.6" y1="1053.7" x2="622.9" y2="1053.7" stroke="#111" stroke-width="1.1"/>
<line x1="594.6" y1="1058.5" x2="622.9" y2="1058.5" stroke="#111" stroke-width="1.1"/>
<line x1="594.6" y1="1063.4" x2="622.9" y2="1063.4" stroke="#111" stroke-width="1.1"/>
<line x1="594.6" y1="1068.2" x2="622.9" y2="1068.2" stroke="#111" stroke-width="1.1"/>
<line x1="594.6" y1="1073.1" x2="622.9" y2="1073.1" stroke="#111" stroke-width="1.1"/>
<rect x="594.6" y="927.3" width="28.3" height="150.6" fill="none" stroke="#000" stroke-width="2.1" stroke-linejoin="round"/>
<rect x="622.9" y="785.0" width="28.3" height="292.9" fill="url(#ck5)"/>
<rect x="622.9" y="785.0" width="28.3" height="292.9" fill="none" stroke="#000" stroke-width="2.1" stroke-linejoin="round"/>
<rect x="651.2" y="1029.0" width="28.3" height="48.9" fill="url(#ck6)"/>
<rect x="651.2" y="1029.0" width="28.3" height="48.9" fill="none" stroke="#000" stroke-width="2.1" stroke-linejoin="round"/>
<text x="156.7" y="958.5" font-size="20" text-anchor="middle">*</text>
<path d="M180.6,878.6H189.7M185.1,874.1V883.1" stroke="#000" stroke-width="1.75"/>
<text x="213.4" y="963.6" font-size="20" text-anchor="middle">*</text>
<path d="M237.2,838.6H246.3M241.8,834.1V843.1" stroke="#000" stroke-width="1.75"/>
<text x="270.0" y="1049.9" font-size="20" text-anchor="middle">*</text>
<path d="M265.6,1029.5H274.7M270.1,1025.0V1034.0" stroke="#000" stroke-width="1.75"/>
<text x="270.6" y="1021.0" font-size="10.5" font-weight="bold" text-anchor="middle" style="font-family:'Liberation Serif',serif">&amp;</text>
<text x="354.4" y="987.9" font-size="20" text-anchor="middle">*</text>
<path d="M378.3,940.9H387.4M382.8,936.4V945.4" stroke="#000" stroke-width="1.75"/>
<path d="M434.9,868.0H444.0M439.5,863.5V872.5" stroke="#000" stroke-width="1.75"/>
<text x="439.5" y="860.1" font-size="13.6" font-weight="bold" text-anchor="middle" style="font-family:'Liberation Serif',serif">#</text>
<text x="467.7" y="1064.2" font-size="20" text-anchor="middle">*</text>
<path d="M463.3,1042.9H472.4M467.8,1038.4V1047.5" stroke="#000" stroke-width="1.75"/>
<text x="468.3" y="1033.9" font-size="10.5" font-weight="bold" text-anchor="middle" style="font-family:'Liberation Serif',serif">&amp;</text>
<text x="552.0" y="895.5" font-size="20" text-anchor="middle">*</text>
<text x="580.3" y="822.0" font-size="20" text-anchor="middle">*</text>
<path d="M575.9,799.7H585.0M580.4,795.2V804.2" stroke="#000" stroke-width="1.75"/>
<text x="608.7" y="918.2" font-size="20" text-anchor="middle">*</text>
<path d="M632.5,756.3H641.6M637.1,751.8V760.8" stroke="#000" stroke-width="1.75"/>
<text x="637.1" y="749.7" font-size="13.6" font-weight="bold" text-anchor="middle" style="font-family:'Liberation Serif',serif">#</text>
<text x="665.3" y="1016.9" font-size="20" text-anchor="middle">*</text>
<path d="M660.9,995.0H670.0M665.4,990.5V999.5" stroke="#000" stroke-width="1.75"/>
<text x="665.9" y="987.6" font-size="10.5" font-weight="bold" text-anchor="middle" style="font-family:'Liberation Serif',serif">&amp;</text>
<rect x="123.9" y="635.4" width="24.7" height="14.2" fill="#fff" rx="1.3"/>
<rect x="123.9" y="635.4" width="24.7" height="14.2" fill="none" stroke="#000" stroke-width="2.1" stroke-linejoin="round" rx="1.3"/>
<text x="163" y="649.4" font-size="19.3" font-style="italic" class="it">Control</text>
<rect x="274.6" y="636.4" width="25.6" height="14.1" fill="#878787" rx="1.3"/>
<rect x="274.6" y="636.4" width="25.6" height="14.1" fill="none" stroke="#000" stroke-width="2.1" stroke-linejoin="round" rx="1.3"/>
<text x="314" y="650.5" font-size="19" font-style="italic" class="it">MELAS</text>
<rect x="423.6" y="634.0" width="24.8" height="14.1" fill="#fff" rx="1.3"/>
<line x1="430.2" y1="634.0" x2="430.2" y2="648.1" stroke="#111" stroke-width="1.1"/>
<line x1="436.4" y1="634.0" x2="436.4" y2="648.1" stroke="#111" stroke-width="1.1"/>
<line x1="442.5" y1="634.0" x2="442.5" y2="648.1" stroke="#111" stroke-width="1.1"/>
<rect x="423.6" y="634.0" width="24.8" height="14.1" fill="none" stroke="#000" stroke-width="2.1" stroke-linejoin="round" rx="1.3"/>
<text x="462.4" y="648" font-size="19.2" font-style="italic" class="it">Pep-1</text>
<rect x="542.0" y="634.4" width="24.7" height="14.1" fill="#fff" rx="1.3"/>
<line x1="542.0" y1="639.0" x2="566.7" y2="639.0" stroke="#111" stroke-width="1.1"/>
<line x1="542.0" y1="643.6" x2="566.7" y2="643.6" stroke="#111" stroke-width="1.1"/>
<rect x="542.0" y="634.4" width="24.7" height="14.1" fill="none" stroke="#000" stroke-width="2.1" stroke-linejoin="round" rx="1.3"/>
<text x="581.2" y="648" font-size="19.5" font-style="italic" class="it">Mito</text>
<rect x="123.9" y="680.3" width="24.8" height="14.4" fill="url(#ck7)" rx="1.3"/>
<rect x="123.9" y="680.3" width="24.8" height="14.4" fill="none" stroke="#000" stroke-width="2.1" stroke-linejoin="round" rx="1.3"/>
<text x="163" y="694.5" font-size="19.25" font-style="italic" class="it">Pep-1-Mito</text>
<rect x="275.0" y="680.3" width="24.9" height="14.4" fill="url(#ck8)" rx="1.3"/>
<rect x="275.0" y="680.3" width="24.9" height="14.4" fill="none" stroke="#000" stroke-width="2.1" stroke-linejoin="round" rx="1.3"/>
<text x="313.8" y="700.5" font-size="19.4" font-style="italic" class="it">Pep-1-Mito<tspan font-size="15" dy="-8.3" dx="0.3">3243</tspan></text>
</svg></body></html>
